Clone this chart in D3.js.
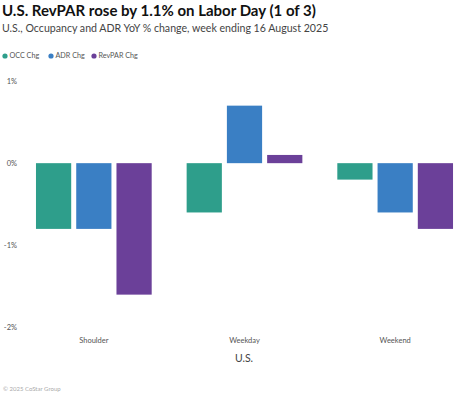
<!DOCTYPE html>
<html>
<head>
<meta charset="utf-8">
<script src="https://cdn.jsdelivr.net/npm/d3@7"></script>
<style>
  body { margin: 0; background: #fff; }
  svg { display: block; font-family: Lato, 'Open Sans', sans-serif; }
</style>
</head>
<body>
<div id="chart"></div>
<script>
// data
const categories = ['Shoulder', 'Weekday', 'Weekend'];
const seriesNames = ['OCC Chg', 'ADR Chg', 'RevPAR Chg'];
const occChg = [-0.8, -0.6, -0.2];
const adrChg = [-0.8, 0.7, -0.6];
const revparChg = [-1.6, 0.1, -0.8];
const yTicks = [1, 0, -1, -2];

const colors = ['#2e9e8b', '#3a7fc4', '#6b4099'];
const width = 465, height = 395;

const rows = categories.map((c, i) => ({
  label: c,
  values: [occChg[i], adrChg[i], revparChg[i]]
}));

const svg = d3.select('#chart').append('svg')
  .attr('width', width)
  .attr('height', height);

/* title + subtitle */
svg.append('text')
  .attr('x', 2).attr('y', 16)
  .attr('font-size', 15).attr('font-weight', 700)
  .attr('fill', '#111')
  .text('U.S. RevPAR rose by 1.1% on Labor Day (1 of 3)');

svg.append('text')
  .attr('x', 2).attr('y', 32)
  .attr('font-size', 10.6)
  .attr('fill', '#444')
  .text('U.S., Occupancy and ADR YoY % change, week ending 16 August 2025');

/* legend */
const legendX = [5, 51, 94];
const lg = svg.append('g').selectAll('g').data(seriesNames).enter().append('g')
  .attr('transform', (d, i) => 'translate(' + legendX[i] + ',56)');
lg.append('circle').attr('r', 2.6).attr('fill', (d, i) => colors[i]);
lg.append('text')
  .attr('x', 4.5).attr('y', 2.4)
  .attr('font-size', 7.2).attr('fill', '#555')
  .text(d => d);

/* scales */
const y = d3.scaleLinear().domain([-2, 1]).range([327.5, 81]);

const x0 = d3.scaleBand().domain(categories)
  .range([18.5, 470.5])
  .paddingInner(0.232).paddingOuter(0.116);

const x1 = d3.scaleBand().domain(d3.range(3))
  .range([0, x0.bandwidth()])
  .paddingInner(0.125).paddingOuter(0);

/* y axis labels, no line */
const yAxis = svg.append('g').attr('transform', 'translate(17,0)')
  .call(d3.axisLeft(y).tickValues(yTicks).tickSize(0).tickPadding(0)
    .tickFormat(d => d + '%'));
yAxis.select('.domain').remove();
yAxis.selectAll('text').attr('font-size', 7.5).attr('fill', '#555')
  .attr('font-family', 'Lato, sans-serif');

/* bars */
const groups = svg.append('g').selectAll('g').data(rows).enter().append('g')
  .attr('transform', d => 'translate(' + x0(d.label) + ',0)');

groups.selectAll('rect')
  .data(d => d.values)
  .enter()
  .append('rect')
  .attr('x', (d, i) => x1(i))
  .attr('width', x1.bandwidth())
  .attr('y', d => y(Math.max(0, d)))
  .attr('height', d => Math.abs(y(d) - y(0)))
  .attr('fill', (d, i) => colors[i]);

/* x axis labels */
const xAxis = svg.append('g').attr('transform', 'translate(0,338)')
  .call(d3.axisBottom(x0).tickSize(0).tickPadding(0));
xAxis.select('.domain').remove();
xAxis.selectAll('text').attr('font-size', 7.5).attr('fill', '#555')
  .attr('font-family', 'Lato, sans-serif');

svg.append('text')
  .attr('x', 244).attr('y', 362)
  .attr('text-anchor', 'middle')
  .attr('font-size', 10.5).attr('fill', '#444')
  .text('U.S.');

svg.append('text')
  .attr('x', 3).attr('y', 391)
  .attr('font-size', 6).attr('fill', '#aaa')
  .text('\u00a9 2025 CoStar Group');
</script>
</body>
</html>
